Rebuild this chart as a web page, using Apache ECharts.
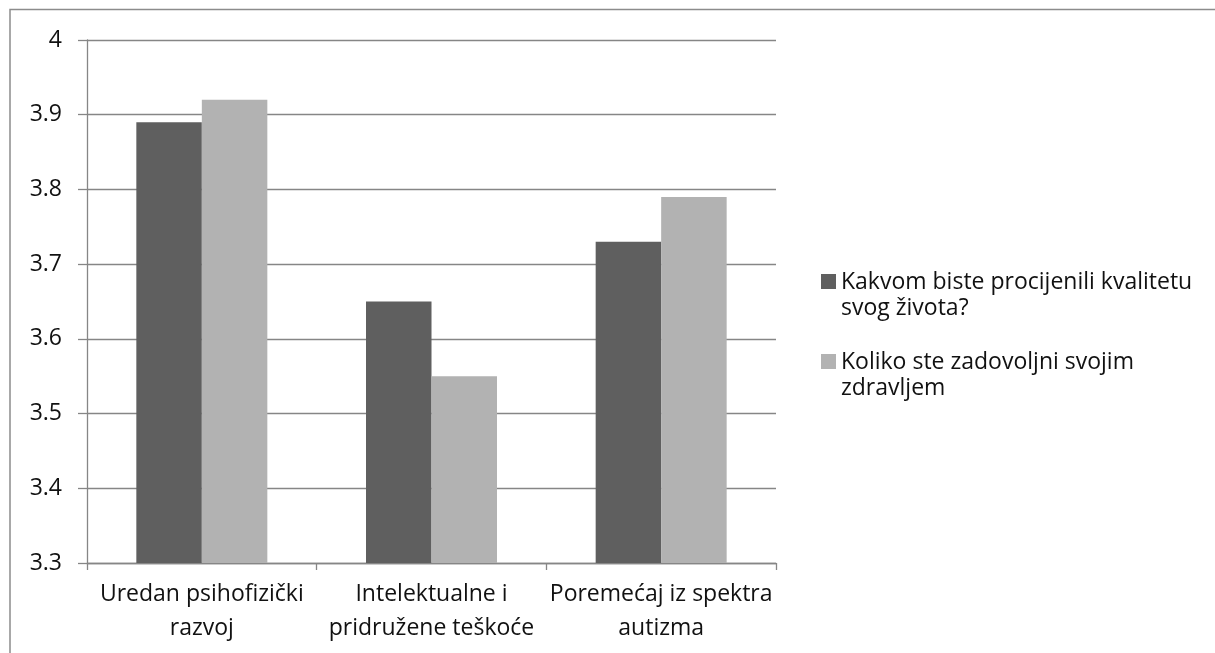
<!DOCTYPE html>
<html>
<head>
<meta charset="utf-8">
<script src="https://cdn.jsdelivr.net/npm/echarts@6/dist/echarts.min.js"></script>
<style>html,body{margin:0;padding:0;background:#fff}#c{width:1215px;height:653px}</style>
</head>
<body>
<div id="c"></div>
<script>
var categories = ['Uredan psihofizički\nrazvoj', 'Intelektualne i\npridružene teškoće', 'Poremećaj iz spektra\nautizma'];
var seriesNames = ['Kakvom biste procijenili kvalitetu\nsvog života?', 'Koliko ste zadovoljni svojim\nzdravljem'];
var quality = [3.89, 3.65, 3.73];
var health = [3.92, 3.55, 3.79];
var yMin = 3.3, yMax = 4, yStep = 0.1;

var FONT = '"Open Sans", "Noto Sans", sans-serif';
var chart = echarts.init(document.getElementById('c'), null, {renderer: 'canvas'});
var iconPath = 'path://M0,0h0.001v0.001h-0.001Z M0,5h15v15h-15Z M0,52h0.001v0.001h-0.001Z';
chart.setOption({
  animation: false,
  textStyle: {fontFamily: FONT},
  graphic: [{
    type: 'rect', silent: true, z: -1,
    shape: {x: 10, y: 9.5, width: 1230, height: 700},
    style: {fill: 'none', stroke: '#8c8c8c', lineWidth: 1.5}
  }],
  grid: {left: 87, right: 439, top: 40, bottom: 90, containLabel: false},
  legend: {
    orient: 'vertical', left: 816, top: 264,
    itemWidth: 15, itemHeight: 52, itemGap: 28,
    icon: iconPath,
    textStyle: {fontFamily: FONT, fontSize: 23, lineHeight: 26, color: '#111'},
    data: seriesNames
  },
  xAxis: {
    type: 'category', data: categories,
    axisLine: {lineStyle: {color: '#868686', width: 1.3}},
    axisTick: {show: true, length: 7, lineStyle: {color: '#868686', width: 1.3}},
    axisLabel: {fontFamily: FONT, fontSize: 23, lineHeight: 34, color: '#111', margin: 14, interval: 0}
  },
  yAxis: {
    type: 'value', min: yMin, max: yMax, interval: yStep,
    axisLine: {show: true, lineStyle: {color: '#868686', width: 1.3}},
    axisTick: {show: true, length: 9, inside: false, lineStyle: {color: '#868686', width: 1.3}},
    splitLine: {lineStyle: {color: '#868686', width: 1.3}},
    axisLabel: {fontFamily: FONT, fontSize: 23, color: '#111', margin: 25,
      formatter: function (v) { return String(Math.round(v * 10) / 10); }}
  },
  series: [
    {name: seriesNames[0], type: 'bar', data: quality, barWidth: 65.5, barGap: '0%',
     itemStyle: {color: '#5f5f5f'}},
    {name: seriesNames[1], type: 'bar', data: health, barWidth: 65.5, barGap: '0%',
     itemStyle: {color: '#b2b2b2'}}
  ]
});
</script>
</body>
</html>
